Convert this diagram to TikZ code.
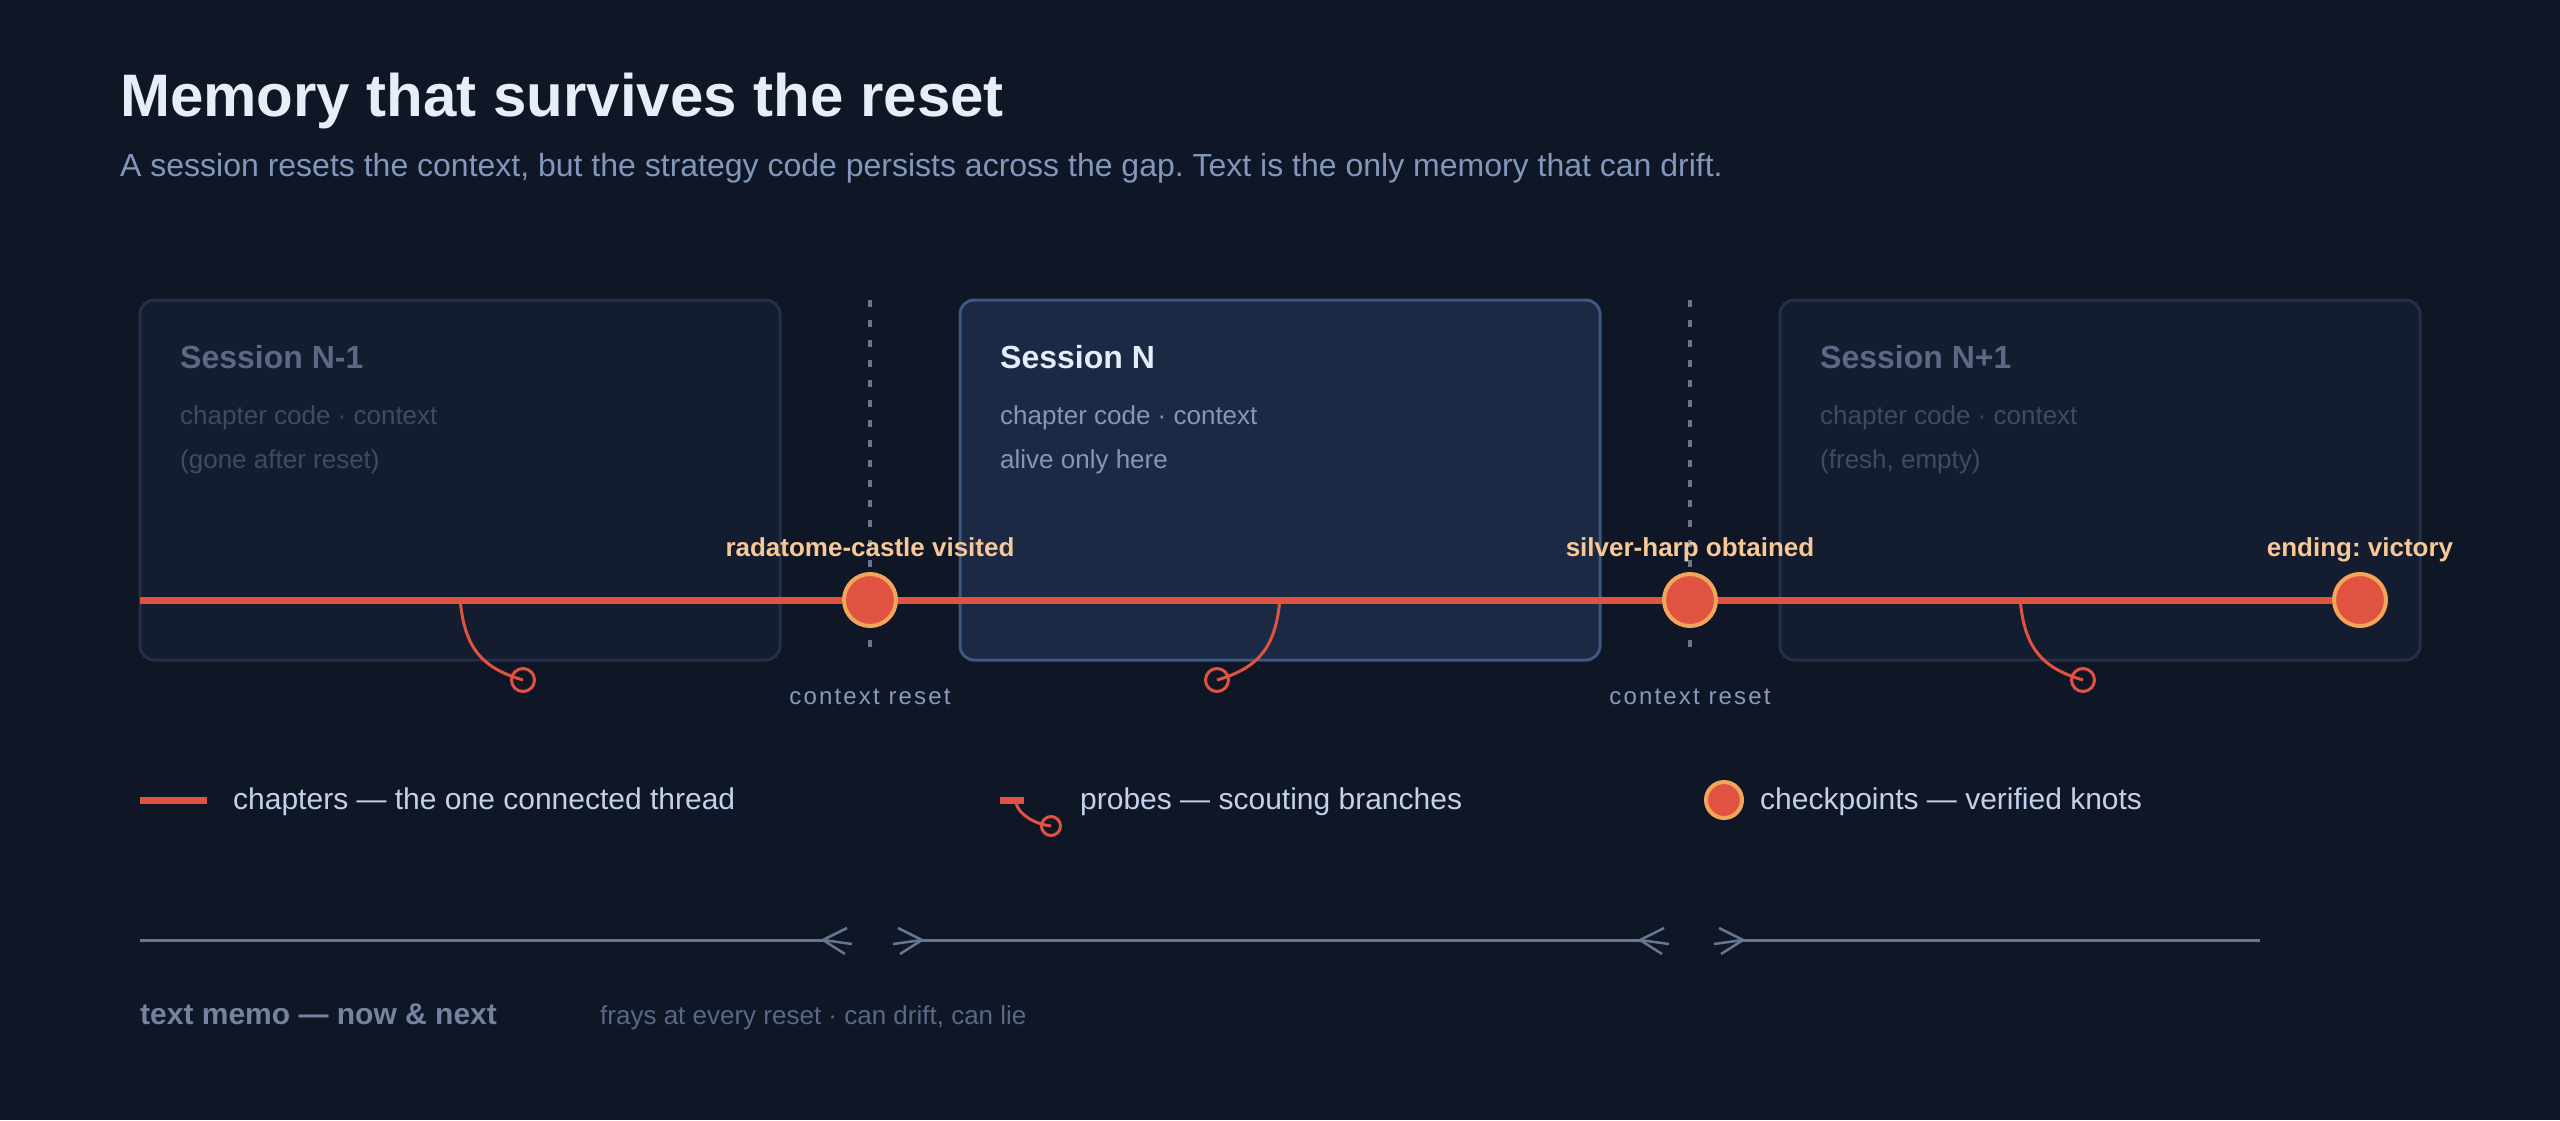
\documentclass[tikz,border=0pt]{standalone}
\usepackage{fontspec}
\setmainfont{Liberation Sans}
\newfontfamily\spacedfont[LetterSpace=9]{Liberation Sans}
\usetikzlibrary{positioning}
\frenchspacing

\definecolor{bgnavy}{HTML}{0F1626}
\definecolor{oldfill}{HTML}{141C2F}
\definecolor{oldedge}{HTML}{243048}
\definecolor{curfill}{HTML}{1B2944}
\definecolor{curedge}{HTML}{3C5780}
\definecolor{threadred}{HTML}{E05340}
\definecolor{knotedge}{HTML}{F3A65A}
\definecolor{knottext}{HTML}{F8C896}
\definecolor{titletext}{HTML}{E8EEF8}
\definecolor{subtext}{HTML}{8397BA}
\definecolor{oldtitle}{HTML}{5B6985}
\definecolor{oldline}{HTML}{3E4A66}
\definecolor{curtitle}{HTML}{E2EEFC}
\definecolor{curline}{HTML}{8597B8}
\definecolor{resetgrey}{HTML}{66758F}
\definecolor{resettext}{HTML}{8A9AB8}
\definecolor{legendtext}{HTML}{C3D1EA}
\definecolor{memogrey}{HTML}{67768F}
\definecolor{memohead}{HTML}{75839F}
\definecolor{memonote}{HTML}{5A6886}

\begin{document}
\begin{tikzpicture}[x=1pt,y=-1pt,
    txt/.style={inner sep=0pt, anchor=base west},
    sessold/.style={draw=oldedge, fill=oldfill, line width=3pt, rounded corners=14pt,
        minimum width=640pt, minimum height=360pt, inner sep=0pt},
    sesscur/.style={sessold, draw=curedge, fill=curfill},
    reset/.style={resetgrey, line width=3.5pt, dash pattern=on 7pt off 13pt},
    thread/.style={threadred, line width=7pt},
    probe/.style={threadred, line width=3pt},
    probeend/.style={circle, draw=threadred, line width=3pt, minimum size=23pt, inner sep=0pt},
    knot/.style={circle, draw=knotedge, fill=threadred, line width=4pt, minimum size=52pt, inner sep=0pt},
    knotlabel/.style={inner sep=0pt, anchor=base, text=knottext,
        font=\fontsize{26}{30}\selectfont\bfseries},
    memo/.style={memogrey, line width=3pt}]

    \fill[bgnavy] (0,0) rectangle (2560,1120);
    \useasboundingbox (0,0) rectangle (2560,1120);

    % heading
    \node[txt, text=titletext, font=\fontsize{60}{70}\selectfont\bfseries] (title) at (120,116)
        {Memory that survives the reset};
    \node[txt, text=subtext, font=\fontsize{32}{38}\selectfont] (subtitle) at (120,176)
        {A session resets the context, but the strategy code persists across the gap. Text is the only memory that can drift.};

    % sessions
    \node[sessold] (s1) at (460,480) {};
    \node[sesscur] (s2) at (1280,480) {};
    \node[sessold] (s3) at (2100,480) {};
    \node[txt, text=oldtitle, font=\fontsize{32}{38}\selectfont\bfseries] (s1t) at (180,368) {Session N-1};
    \node[txt, text=curtitle, font=\fontsize{32}{38}\selectfont\bfseries] (s2t) at (1000,368) {Session N};
    \node[txt, text=oldtitle, font=\fontsize{32}{38}\selectfont\bfseries] (s3t) at (1820,368) {Session N+1};
    \node[txt, text=oldline, font=\fontsize{26}{30}\selectfont] (s1a) at (180,424) {chapter code · context};
    \node[txt, text=oldline, font=\fontsize{26}{30}\selectfont] (s1b) at (180,468) {(gone after reset)};
    \node[txt, text=curline, font=\fontsize{26}{30}\selectfont] (s2a) at (1000,424) {chapter code · context};
    \node[txt, text=curline, font=\fontsize{26}{30}\selectfont] (s2b) at (1000,468) {alive only here};
    \node[txt, text=oldline, font=\fontsize{26}{30}\selectfont] (s3a) at (1820,424) {chapter code · context};
    \node[txt, text=oldline, font=\fontsize{26}{30}\selectfont] (s3b) at (1820,468) {(fresh, empty)};

    % context resets
    \foreach \n/\x in {1/870, 2/1690} {
        \coordinate (r\n t) at (\x,300);
        \coordinate (r\n b) at (\x,648);
        \draw[reset] (r\n t) -- (r\n b);
        \node[inner sep=0pt, anchor=base, text=resettext, font=\fontsize{24}{28}\spacedfont] (r\n l) at (\x,704) {context reset};
    }

    % probes
    \coordinate (p1) at (460,598);
    \coordinate (p2) at (1280,598);
    \coordinate (p3) at (2020,598);
    \node[probeend] (p1e) at (523,680) {};
    \node[probeend] (p2e) at (1217,680) {};
    \node[probeend] (p3e) at (2083,680) {};
    \draw[probe] (p1) .. controls (464,648) and (482,668) .. (p1e.center);
    \draw[probe] (p2) .. controls (1276,648) and (1258,668) .. (p2e.center);
    \draw[probe] (p3) .. controls (2024,648) and (2042,668) .. (p3e.center);

    % chapters thread and checkpoints
    \coordinate (t0) at (140,600);
    \node[knot] (c1) at (870,600) {};
    \node[knot] (c2) at (1690,600) {};
    \node[knot] (c3) at (2360,600) {};
    \draw[thread] (t0) -- (c1) -- (c2) -- (c3);
    \node[knotlabel] (c1l) at (870,556) {radatome-castle visited};
    \node[knotlabel] (c2l) at (1690,556) {silver-harp obtained};
    \node[knotlabel] (c3l) at (2360,556) {ending: victory};

    % legend
    \coordinate (lg1a) at (140,800);
    \coordinate (lg1b) at (207,800);
    \draw[thread] (lg1a) -- (lg1b);
    \node[txt, text=legendtext, font=\fontsize{30}{36}\selectfont] (lg1) at (233,809) {chapters — the one connected thread};
    \coordinate (lg2a) at (1000,800);
    \coordinate (lg2b) at (1024,800);
    \coordinate (lg2c) at (1016,803);
    \draw[thread] (lg2a) -- (lg2b);
    \node[probeend, minimum size=19pt] (lg2e) at (1051,826) {};
    \draw[probe] (lg2c) .. controls (1019,815) and (1035,824) .. (lg2e.center);
    \node[txt, text=legendtext, font=\fontsize{30}{36}\selectfont] (lg2) at (1080,809) {probes — scouting branches};
    \node[knot, minimum size=36pt] (lg3c) at (1724,800) {};
    \node[txt, text=legendtext, font=\fontsize{30}{36}\selectfont] (lg3) at (1760,809) {checkpoints — verified knots};

    % text memo, frayed at each reset
    \coordinate (m0) at (140,940);
    \coordinate (m1) at (823,940);
    \coordinate (m2) at (922,940);
    \coordinate (m3) at (1640,940);
    \coordinate (m4) at (1743,940);
    \coordinate (m5) at (2260,940);
    \draw[memo] (m0) -- (m1);
    \draw[memo] (m2) -- (m3);
    \draw[memo] (m4) -- (m5);
    \foreach \dx/\dy in {24/-12, 29/4, 22/14} {
        \draw[memo, line width=2.5pt] (m1) -- ++(\dx,\dy);
        \draw[memo, line width=2.5pt] (m2) -- ++(-\dx,\dy);
        \draw[memo, line width=2.5pt] (m3) -- ++(\dx,\dy);
        \draw[memo, line width=2.5pt] (m4) -- ++(-\dx,\dy);
    }
    \node[txt, text=memohead, font=\fontsize{30}{36}\selectfont\bfseries] (memo) at (140,1024) {text memo — now \& next};
    \node[txt, text=memonote, font=\fontsize{26}{30}\selectfont] (memonote) at (600,1024) {frays at every reset · can drift, can lie};
\end{tikzpicture}
\end{document}
